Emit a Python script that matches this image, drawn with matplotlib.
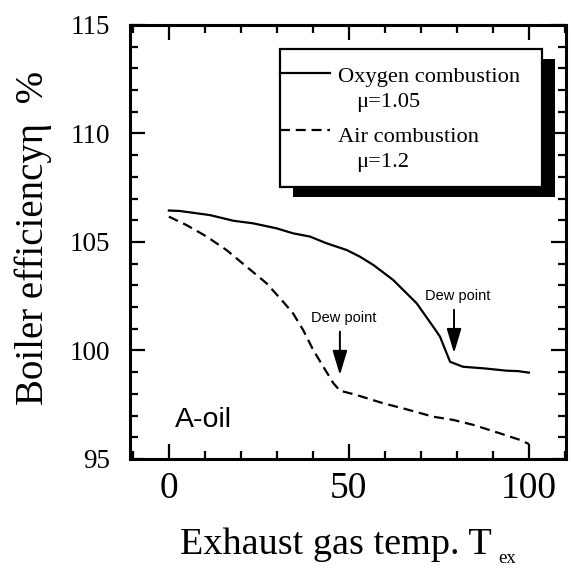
import matplotlib
matplotlib.use("Agg")
import matplotlib.pyplot as plt
from matplotlib.patches import Rectangle
from matplotlib.lines import Line2D
from matplotlib.ticker import MultipleLocator

# ---- data ----
oxy_x = [0, 3, 11.4, 17.9, 23.4, 29.9, 34.5, 39.2, 43.8, 49.4, 53.1, 56.8, 62.3,
         68.8, 73.4, 75.3, 78.1, 81.7, 87.3, 93.8, 97.0, 100.0]
oxy_y = [106.45, 106.43, 106.24, 105.98, 105.86, 105.63, 105.40, 105.25, 104.94,
         104.63, 104.32, 103.94, 103.25, 102.18, 101.10, 100.64, 99.48, 99.25,
         99.18, 99.07, 99.05, 98.98]
air_x = [0, 4.9, 10.5, 16.0, 21.6, 27.1, 31.3, 34.5, 37.3, 40.1, 42.9, 45.7, 47.5,
         52.1, 59.5, 66.0, 73.4, 79.0, 84.6, 92.0, 97.5, 100.0]
air_y = [106.17, 105.78, 105.25, 104.63, 103.86, 103.10, 102.33, 101.71, 100.94,
         100.02, 99.25, 98.49, 98.15, 97.95, 97.57, 97.29, 96.95, 96.80, 96.57,
         96.18, 95.88, 95.69]
series_labels = ["Oxygen combustion", "Air combustion"]
mu_labels = ["\u03bc=1.05", "\u03bc=1.2"]
dew_x = [47.5, 79.2]
dew_tip_y = [98.87, 99.88]
x_ticks = [0, 50, 100]
y_ticks = [95, 100, 105, 110, 115]

SERIF = ["Liberation Serif", "DejaVu Serif"]
SANS = ["Liberation Sans", "DejaVu Sans"]

W, H = 571, 569
fig = plt.figure(figsize=(W / 100, H / 100), dpi=100)
ax = fig.add_axes([130 / W, 1 - 459 / H, 436 / W, 434 / H])

DASH = (4.5, 2.6)
ax.plot(oxy_x, oxy_y, color="black", lw=1.6, solid_joinstyle="round")
ax.plot(air_x, air_y, color="black", lw=1.6, dashes=DASH)

ax.set_xlim(-10.8, 110.3)
ax.set_ylim(95, 115)
ax.set_xticks(x_ticks)
ax.set_yticks(y_ticks)
ax.xaxis.set_minor_locator(MultipleLocator(10))
ax.yaxis.set_minor_locator(MultipleLocator(1))
ax.tick_params(which="both", direction="in", top=True, right=True, width=1.6, color="black")
ax.tick_params(which="major", length=11)
ax.tick_params(which="minor", length=6)
ax.tick_params(axis="x", which="major", pad=9, labelsize=27)
ax.tick_params(axis="y", which="major", pad=14, labelsize=19.5)
for lab in ax.get_xticklabels() + ax.get_yticklabels():
    lab.set_family(SERIF)
for s in ax.spines.values():
    s.set_linewidth(2.2)

# Dew point annotations
for xd, yt in zip(dew_x, dew_tip_y):
    ax.annotate("", xy=(xd, yt), xytext=(xd, yt + 2.0),
                arrowprops=dict(arrowstyle="-|>,head_length=1.5,head_width=0.45",
                                color="black", lw=1.4, shrinkA=0, shrinkB=0))
    ax.text(xd + 1.1, yt + 2.65, "Dew point", family=SANS, fontsize=10.5,
            ha="center", va="center")

ax.text(1.7, 96.47, "A-oil", family=SANS, fontsize=20.5, ha="left", va="baseline")

# Legend with black drop shadow (axes coordinates)
ax.add_patch(Rectangle((0.373, 0.604), 0.601, 0.318, transform=ax.transAxes,
                       facecolor="black", edgecolor="black", lw=0, zorder=5))
ax.add_patch(Rectangle((0.344, 0.627), 0.601, 0.318, transform=ax.transAxes,
                       facecolor="white", edgecolor="black", lw=1.6, zorder=6))
ax.add_line(Line2D([0.344, 0.459], [0.889, 0.889], transform=ax.transAxes,
                   color="black", lw=1.6, zorder=7))
ax.add_line(Line2D([0.344, 0.459], [0.758, 0.758], transform=ax.transAxes,
                   color="black", lw=1.6, dashes=DASH, zorder=7))
ax.text(0.477, 0.869, series_labels[0], transform=ax.transAxes, family=SERIF,
        fontsize=16.2, va="baseline", zorder=8)
ax.text(0.518, 0.811, mu_labels[0], transform=ax.transAxes, family=SERIF,
        fontsize=16.2, va="baseline", zorder=8)
ax.text(0.477, 0.730, series_labels[1], transform=ax.transAxes, family=SERIF,
        fontsize=16.2, va="baseline", zorder=8)
ax.text(0.518, 0.673, mu_labels[1], transform=ax.transAxes, family=SERIF,
        fontsize=16.2, va="baseline", zorder=8)

# Axis labels
fig.text(180 / W, 1 - 554 / H, "Exhaust gas temp. T", family=SERIF, fontsize=27.5,
         ha="left", va="baseline")
fig.text(498 / W, 1 - 563 / H, "ex", family=SERIF, fontsize=13.5,
         ha="left", va="baseline")
fig.text(43 / W, 1 - 238 / H, "Boiler efficiency\u03b7  %", family=SERIF, fontsize=28,
         rotation=90, rotation_mode="anchor", ha="center", va="baseline")

fig.savefig("out.png", dpi=100)
